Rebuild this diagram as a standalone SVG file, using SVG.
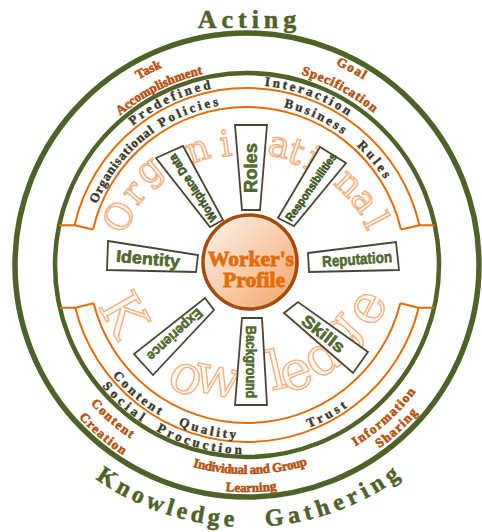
<svg xmlns="http://www.w3.org/2000/svg" width="482" height="532" viewBox="0 0 482 532">
<defs>
<style>
.rg{fill:none;stroke:#4F6228}
.ro{fill:none;stroke:#E46C0A;stroke-width:2}
.dk{font-family:"Liberation Serif","DejaVu Serif",serif;font-weight:bold;font-size:13px;fill:#3B3628;stroke:#3B3628;stroke-width:0.4;text-anchor:middle}
.or{font-family:"Liberation Serif","DejaVu Serif",serif;font-weight:bold;font-size:13px;fill:#B4540F;stroke:#B4540F;stroke-width:0.6;text-anchor:middle}
.big{font-family:"Liberation Serif","DejaVu Serif",serif;font-weight:bold;fill:#4F6228;stroke:#4F6228;stroke-width:0.5;text-anchor:middle}
.wm{font-family:"DejaVu Serif","Liberation Serif",serif;fill:#FFF8F3;stroke:#F5B07F;stroke-width:1.4;text-anchor:middle}
.box{fill:#fff;stroke:#4B4632;stroke-width:1.8}
.lbl{font-family:"Liberation Sans","DejaVu Sans",sans-serif;font-weight:bold;fill:#55702B;stroke:#3E5020;stroke-width:0.5;text-anchor:middle;dominant-baseline:central}
.lbd{fill:#3F5521;stroke:#3F5521;stroke-width:0.6}
.wp{font-family:"Liberation Serif","DejaVu Serif",serif;font-weight:bold;font-size:20px;fill:#E46C0A;stroke:#E46C0A;stroke-width:0.8;text-anchor:middle}
</style>
<linearGradient id="pg" x1="0" y1="0" x2="1" y2="1">
<stop offset="0" stop-color="#FFF6F0"/><stop offset="1" stop-color="#F3A367"/>
</linearGradient>
<path id="u180" d="M67,265 A180,180 0 0 1 427,265"/>
<path id="u162" d="M85,265 A162,162 0 0 1 409,265"/>
<path id="u196" d="M51,265 A196,196 0 0 1 443,265"/>
<path id="u214" d="M32,265 A215,215 0 0 1 462,265"/>
<path id="u198" d="M49,265 A198,198 0 0 1 445,265"/>
<path id="u218" d="M28,265 A219,219 0 0 1 466,265"/>
<path id="b174" d="M73,265 A174,174 0 0 0 421,265"/>
<path id="b189" d="M58,265 A189,189 0 0 0 436,265"/>
<path id="b209" d="M38,265 A209,209 0 0 0 456,265"/>
<path id="b226" d="M20,265 A227,227 0 0 0 474,265"/>
<path id="b211" d="M36,265 A211,211 0 0 0 458,265"/>
<path id="b225" d="M21,265 A226,226 0 0 0 473,265"/>
<path id="b227" d="M20,265 A227,227 0 0 0 474,265"/>
<path id="b262" d="M-15,265 A262,262 0 0 0 509,265"/>
</defs>
<rect width="482" height="532" fill="#fff"/>

<g id="rings">
<circle class="rg" cx="247" cy="265" r="232" stroke-width="5.5"/>
<circle class="rg" cx="247" cy="265" r="192" stroke-width="4.5"/>
<path class="ro" d="M74.54,225.18 A177,177 0 0 1 419.46,225.18"/>
<path class="ro" d="M93.05,229.46 A158,158 0 0 1 400.95,229.46"/>
<path class="ro" d="M75.26,307.82 A177,177 0 0 0 418.74,307.82"/>
<path class="ro" d="M93.69,303.22 A158,158 0 0 0 400.31,303.22"/>
<polyline class="ro" points="59.17,225.18 74.54,225.18 93.05,229.46"/>
<polyline class="ro" points="434.83,225.18 419.46,225.18 400.95,229.46"/>
<polyline class="ro" points="59.84,307.82 75.26,307.82 93.69,303.22"/>
<polyline class="ro" points="434.16,307.82 418.74,307.82 400.31,303.22"/>
</g>

<g id="outer-labels">
<text class="big" x="249.5" y="28" font-size="26" letter-spacing="5">Acting</text>
<text class="big" font-size="24" letter-spacing="4.2"><textPath href="#b262" startOffset="326">Knowledge</textPath></text>
<text class="big" font-size="24" letter-spacing="5"><textPath href="#b262" startOffset="505.3">Gathering</textPath></text>
</g>

<g id="activity-labels">
<text class="or"><textPath href="#u214" startOffset="237">Task</textPath></text>
<text class="or"><textPath href="#u196" startOffset="216.5">Accomplishment</textPath></text>
<text class="or" letter-spacing="1.5"><textPath href="#u218" startOffset="451.7">Goal</textPath></text>
<text class="or" letter-spacing="0.9"><textPath href="#u198" startOffset="407.4">Specification</textPath></text>
<text class="or" letter-spacing="1.4"><textPath href="#b209" startOffset="178.7">Content</textPath></text>
<text class="or" letter-spacing="1.3"><textPath href="#b226" startOffset="196.8">Creation</textPath></text>
<text class="or" letter-spacing="1.4"><textPath href="#b211" startOffset="486.5">Information</textPath></text>
<text class="or" letter-spacing="1.4"><textPath href="#b225" startOffset="523">Sharing</textPath></text>
<text class="or" letter-spacing="-0.3"><textPath href="#b209" startOffset="331.2">Individual and Group</textPath></text>
<text class="or"><textPath href="#b227" startOffset="360.5">Learning</textPath></text>
</g>

<g id="ring-labels">
<text class="dk" letter-spacing="3"><textPath href="#u180" startOffset="204.2">Predefined</textPath></text>
<text class="dk" letter-spacing="2.7"><textPath href="#u180" startOffset="346.2">Interaction</textPath></text>
<text class="dk" letter-spacing="0.8"><textPath href="#u162" startOffset="109.7">Organisational</textPath></text>
<text class="dk" letter-spacing="2.9"><textPath href="#u162" startOffset="196.2">Policies</textPath></text>
<text class="dk" letter-spacing="2.5"><textPath href="#u162" startOffset="325.2">Business</textPath></text>
<text class="dk" letter-spacing="3.1"><textPath href="#u162" startOffset="398.1">Rules</textPath></text>
<text class="dk" letter-spacing="2.8"><textPath href="#b174" startOffset="151.8">Content</textPath></text>
<text class="dk" letter-spacing="2.9"><textPath href="#b174" startOffset="233.8">Quality</textPath></text>
<text class="dk" letter-spacing="3.4"><textPath href="#b174" startOffset="359.9">Trust</textPath></text>
<text class="dk" letter-spacing="3.9"><textPath href="#b189" startOffset="160">Social</textPath></text>
<text class="dk" letter-spacing="3.2"><textPath href="#b189" startOffset="248.4">Procuction</textPath></text>
</g>

<g id="watermark" font-size="36">
<text class="wm" transform="translate(118.7,216.5) rotate(-60)" y="13">O</text>
<text class="wm" transform="translate(135.1,193.6) rotate(-49)" y="10">r</text>
<text class="wm" transform="translate(153.5,175.8) rotate(-39)" y="4">g</text>
<text class="wm" transform="translate(198.1,151) rotate(-19)" y="10">n</text>
<text class="wm" transform="translate(225.5,144.4) rotate(-8)" y="12">i</text>
<text class="wm" transform="translate(279.1,146.8) rotate(13)" y="10">a</text>
<text class="wm" transform="translate(296.3,151.9) rotate(20)" y="12">t</text>
<text class="wm" transform="translate(312.7,159) rotate(27)" y="12">i</text>
<text class="wm" transform="translate(348.1,184.3) rotate(44)" y="10">n</text>
<text class="wm" transform="translate(363.4,201.5) rotate(53)" y="10">a</text>
<text class="wm" transform="translate(375.8,221) rotate(62)" y="12">l</text>
<g font-size="54">
<text class="wm" transform="translate(123.4,314.6) rotate(60.4)" y="18">K</text>
<text class="wm" transform="translate(185,380) rotate(24.3)" y="13">o</text>
<text class="wm" transform="translate(217,382) rotate(11.9)" y="13">w</text>
<text class="wm" transform="translate(276,370) rotate(-13.1)" y="19">l</text>
<text class="wm" transform="translate(297,376) rotate(-20.5)" y="13">e</text>
<text class="wm" transform="translate(321,355) rotate(-33.9)" y="19">d</text>
<text class="wm" transform="translate(347,338) rotate(-47.1)" y="6">g</text>
<text class="wm" transform="translate(370,309) rotate(-62.5)" y="13">e</text>
</g>
</g>

<g id="node-roles">
<polygon class="box" points="235,125 267,125 260,210 242,210"/>
<text class="lbl" transform="translate(251,168) rotate(-90)" font-size="18" textLength="50" lengthAdjust="spacingAndGlyphs">Roles</text>
</g>
<g id="node-workplace-data">
<polygon class="box" points="156,158 183,146 223,220 210,227"/>
<text class="lbl lbd" transform="translate(193,188) rotate(-123)" font-size="12" textLength="78" lengthAdjust="spacingAndGlyphs">Workplace Data</text>
</g>
<g id="node-responsibilities">
<polygon class="box" points="320,147 346,163 294,226 278,218"/>
<text class="lbl lbd" transform="translate(311,187) rotate(-55)" font-size="11.5" textLength="80" lengthAdjust="spacingAndGlyphs">Responsibilities</text>
</g>
<g id="node-identity">
<polygon class="box" points="108,241 198,255 196,272 107,270"/>
<text class="lbl" transform="translate(148,259) rotate(5)" font-size="17" textLength="64" lengthAdjust="spacingAndGlyphs">Identity</text>
</g>
<g id="node-reputation">
<polygon class="box" points="308,253 396,242 399,270 309,272"/>
<text class="lbl" transform="translate(357,259) rotate(-4)" font-size="15.5" textLength="70" lengthAdjust="spacingAndGlyphs">Reputation</text>
</g>
<g id="node-skills">
<polygon class="box" points="284,313 298,302 368,352 353,373"/>
<text class="lbl" transform="translate(323,334) rotate(38)" font-size="17" textLength="50" lengthAdjust="spacingAndGlyphs">Skills</text>
</g>
<g id="node-background">
<polygon class="box" points="242,318 262,318 267,405 235,405"/>
<text class="lbl" transform="translate(251,362) rotate(90)" font-size="14" textLength="72" lengthAdjust="spacingAndGlyphs">Background</text>
</g>
<g id="node-experience">
<polygon class="box" points="205,298 214,310 153,375 134,354"/>
<text class="lbl" transform="translate(175,335) rotate(137.5)" font-size="14" textLength="70" lengthAdjust="spacingAndGlyphs">Experience</text>
</g>

<g id="node-profile">
<circle cx="250" cy="262" r="47" fill="url(#pg)" stroke="#A64A0D" stroke-width="3.5"/>
<text class="wp" x="251" y="266" textLength="86" lengthAdjust="spacingAndGlyphs">Worker's</text>
<text class="wp" x="254" y="287" textLength="62" lengthAdjust="spacingAndGlyphs">Profile</text>
</g>
</svg>
